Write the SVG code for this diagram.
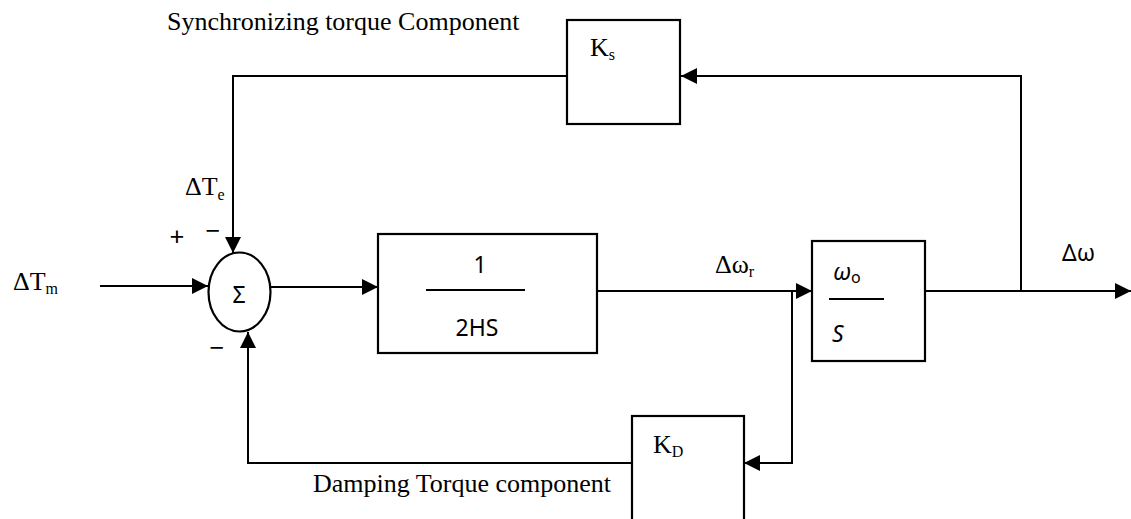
<svg xmlns="http://www.w3.org/2000/svg" width="1131" height="519" viewBox="0 0 1131 519">
<style>
.ln{fill:none;stroke:#000;stroke-width:2}
.bx{fill:#fff;stroke:#000;stroke-width:2.2}
.tr{font-family:"Liberation Serif","Times New Roman",serif;font-size:26px;fill:#000}
.sub{font-size:16px}
.sn{font-family:"Noto Sans","Open Sans",sans-serif;font-size:23px;fill:#000}
.sg{font-family:"Noto Sans","Open Sans",sans-serif;font-size:26px;fill:#000}
</style>
<defs>
<marker id="ar" markerUnits="userSpaceOnUse" markerWidth="16" markerHeight="16" viewBox="0 0 14 14" refX="14" refY="7" orient="auto">
<path d="M0,0 L14,7 L0,14 z" fill="#000"/>
</marker>
</defs>
<rect width="1131" height="519" fill="#fff"/>
<g id="connectors">
<path class="ln" d="M1021,291 V76 H681" marker-end="url(#ar)"/>
<path class="ln" d="M567,76 H233 V253" marker-end="url(#ar)"/>
<path class="ln" d="M100,286 H208" marker-end="url(#ar)"/>
<path class="ln" d="M271,287 H378" marker-end="url(#ar)"/>
<path class="ln" d="M597,291 H812" marker-end="url(#ar)"/>
<path class="ln" d="M792,291 V463 H744" marker-end="url(#ar)"/>
<path class="ln" d="M632,463 H248 V332" marker-end="url(#ar)"/>
<path class="ln" d="M925,291 H1131" marker-end="url(#ar)"/>
</g>
<g id="label-sync"><text class="tr" x="167" y="30">Synchronizing torque Component</text></g>
<g id="label-damp"><text class="tr" x="313" y="492">Damping Torque component</text></g>
<g id="label-dTe"><text class="tr" x="185" y="195">ΔT<tspan class="sub" dy="5">e</tspan></text></g>
<g id="label-dTm"><text class="tr" x="13" y="290">ΔT<tspan class="sub" dy="4">m</tspan></text></g>
<g id="label-dwr"><text class="tr" x="715" y="273">Δω<tspan class="sub" dy="4">r</tspan></text></g>
<g id="label-dw"><text class="sn" x="1062" y="261">Δω</text></g>
<g id="signs">
<text class="sg" x="177" y="246" text-anchor="middle">+</text>
<text class="sg" x="213" y="240" text-anchor="middle">−</text>
<text class="sg" x="217" y="357" text-anchor="middle">−</text>
</g>
<g id="sum">
<ellipse cx="239.5" cy="292" rx="31" ry="39.5" class="bx"/>
<text class="sn" x="239" y="303" text-anchor="middle">Σ</text>
</g>
<g id="block-Ks">
<rect x="567" y="20" width="113" height="104" class="bx"/>
<text class="tr" x="590" y="56">K<tspan class="sub" dy="4">s</tspan></text>
</g>
<g id="block-2HS">
<rect x="378" y="234" width="219" height="119" class="bx"/>
<text class="sn" x="480" y="273" text-anchor="middle">1</text>
<line x1="426" y1="290" x2="525" y2="290" class="ln"/>
<text class="sn" x="477" y="336" text-anchor="middle">2HS</text>
</g>
<g id="block-w0S">
<rect x="812" y="241" width="113" height="120" class="bx"/>
<text class="sn" x="833" y="280" font-style="italic" font-size="28">ω<tspan font-style="normal" font-size="16" dy="3">o</tspan></text>
<line x1="829" y1="299" x2="884" y2="299" class="ln"/>
<text class="sn" x="832" y="342" font-style="italic">S</text>
</g>
<g id="block-KD">
<rect x="632" y="416" width="112" height="120" class="bx"/>
<text class="tr" x="653" y="453">K<tspan class="sub" dy="4">D</tspan></text>
</g>
</svg>
